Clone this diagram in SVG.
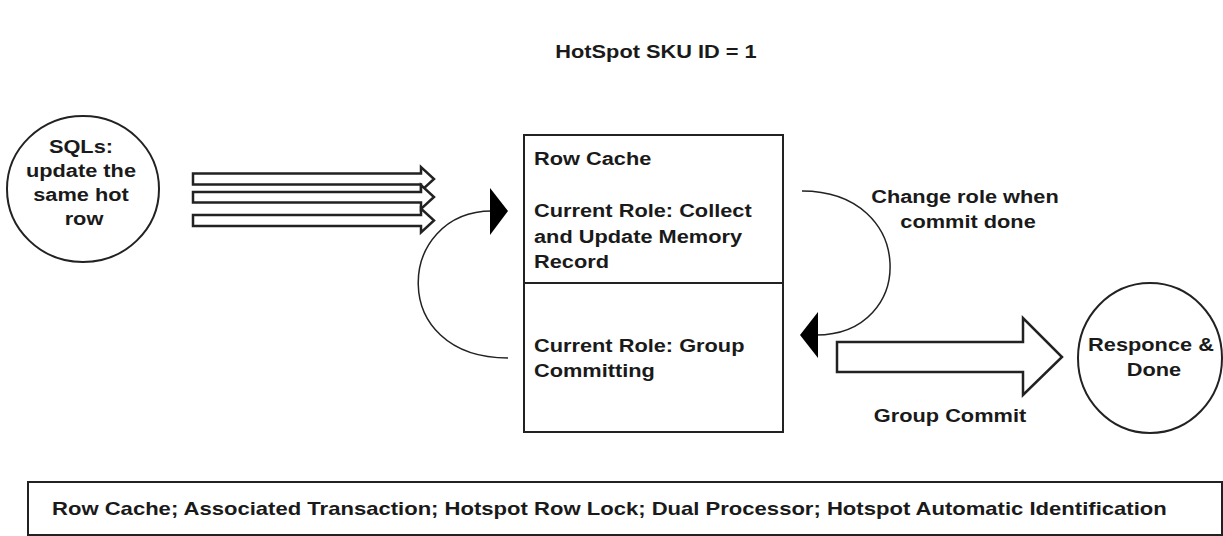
<svg xmlns="http://www.w3.org/2000/svg" width="1223" height="536" viewBox="0 0 1223 536">
  <style>
    .t { font-family: "Liberation Sans", Arial, sans-serif; font-weight: bold; font-size: 18px; fill: #1a1a1a; }
    .c { text-anchor: middle; }
    .shape { fill: #ffffff; stroke: #222222; stroke-width: 2; }
    .fat { fill: #ffffff; stroke: #222222; stroke-width: 2.5; stroke-linejoin: miter; }
    .curve { fill: none; stroke: #222222; stroke-width: 1.5; }
    .head { fill: #000000; stroke: none; }
  </style>
  <rect width="1223" height="536" fill="#ffffff"/>

  <g id="title">
    <text class="t c" transform="translate(656,58) scale(1.21,1)">HotSpot SKU ID = 1</text>
  </g>

  <g id="sqls">
    <ellipse class="shape" cx="83" cy="189" rx="76" ry="73"/>
    <text class="t c" transform="translate(84,0) scale(1.21,1)">
      <tspan x="0" y="153">SQLs:</tspan>
      <tspan x="0" y="177">update the</tspan>
      <tspan x="0" y="201">same hot</tspan>
      <tspan x="0" y="225">row</tspan>
    </text>
  </g>

  <g id="row-cache">
    <rect class="shape" x="524" y="135" width="259" height="297"/>
    <line x1="524" y1="283" x2="783" y2="283" stroke="#222222" stroke-width="2"/>
    <text class="t" transform="translate(534,0) scale(1.21,1)">
      <tspan x="0" y="165">Row Cache</tspan>
      <tspan x="0" y="217">Current Role: Collect</tspan>
      <tspan x="0" y="243">and Update Memory</tspan>
      <tspan x="0" y="268">Record</tspan>
      <tspan x="0" y="352">Current Role: Group</tspan>
      <tspan x="0" y="377">Committing</tspan>
    </text>
  </g>

  <g id="responce">
    <ellipse class="shape" cx="1150" cy="358" rx="72" ry="75"/>
    <text class="t c" transform="translate(1154,0) scale(1.21,1)">
      <tspan x="0" y="351">Responce &amp;</tspan>
      <tspan x="0" y="376">Done</tspan>
    </text>
  </g>

  <g id="features">
    <rect class="shape" x="28" y="482" width="1194" height="53"/>
    <text class="t" transform="translate(52,515) scale(1.226,1)">Row Cache; Associated Transaction; Hotspot Row Lock; Dual Processor; Hotspot Automatic Identification</text>
  </g>

  <g id="connectors">
    <path class="fat" d="M193,173.5 H421 V167 L434,179 L421,191 V184.5 H193 Z"/>
    <path class="fat" d="M193,192 H421 V185 L434,197 L421,209 V202.5 H193 Z"/>
    <path class="fat" d="M193,215 H421 V208.5 L434,220.5 L421,232.5 V226 H193 Z"/>

    <path class="curve" d="M508,358 C386,358 396,211 492,211"/>
    <polygon class="head" points="490,188 508,211 490,235"/>

    <path class="curve" d="M802,191 C917,191 917,335 816,335"/>
    <polygon class="head" points="818,312 800,335 818,358"/>

    <path class="fat" d="M837,342 H1023 V318 L1062,357 L1023,395 V372 H837 Z"/>

    <text class="t c" transform="translate(968,0) scale(1.21,1)">
      <tspan x="0" y="203">Change role when</tspan>
      <tspan x="0" y="228">commit done</tspan>
    </text>
    <text class="t c" transform="translate(950,422) scale(1.21,1)">Group Commit</text>
  </g>
</svg>
